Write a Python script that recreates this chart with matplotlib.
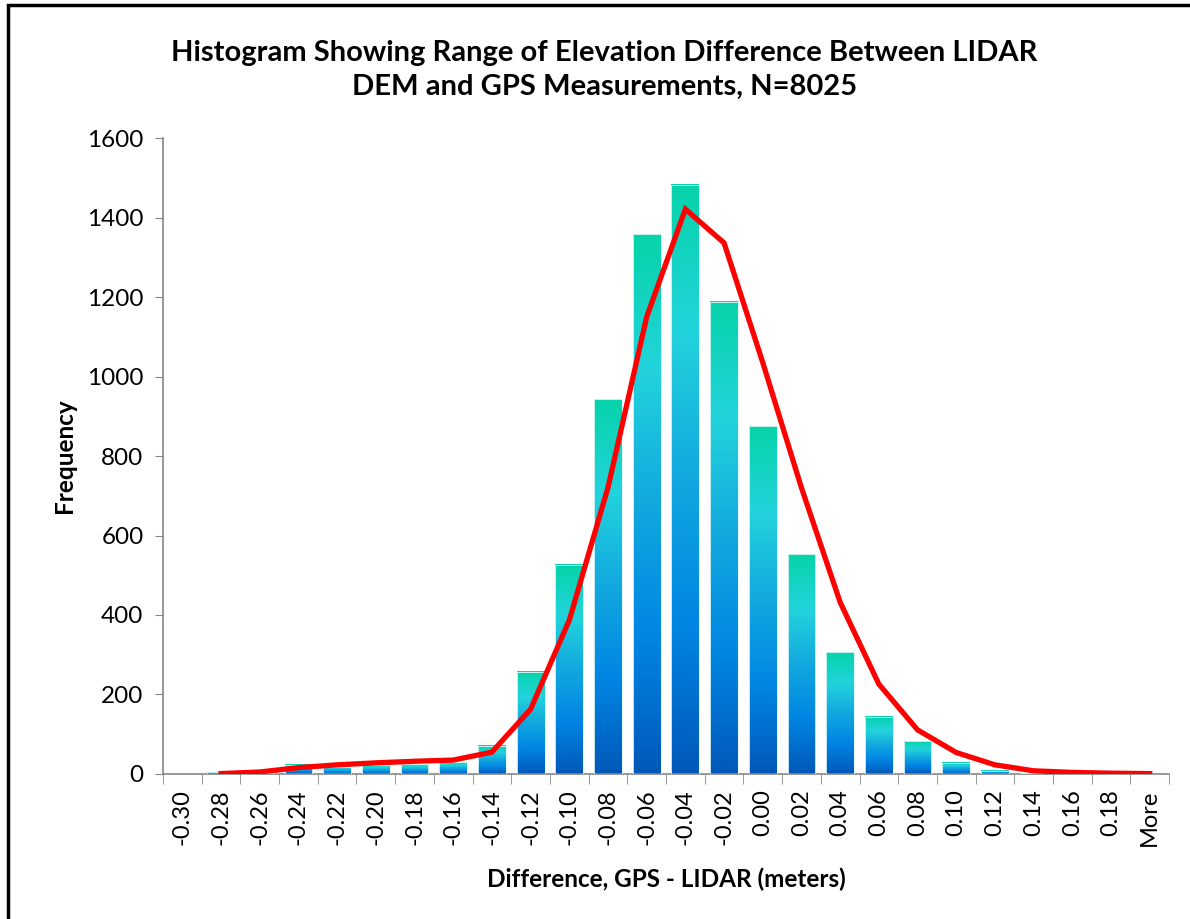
import numpy as np
import matplotlib
matplotlib.use("Agg")
import matplotlib.pyplot as plt
from matplotlib.colors import LinearSegmentedColormap
from matplotlib.patches import Rectangle

# bins of GPS - LIDAR difference (metres), last bin is Excel's "More"
bins = ["-0.30", "-0.28", "-0.26", "-0.24", "-0.22", "-0.20", "-0.18", "-0.16",
        "-0.14", "-0.12", "-0.10", "-0.08", "-0.06", "-0.04", "-0.02", "0.00",
        "0.02", "0.04", "0.06", "0.08", "0.10", "0.12", "0.14", "0.16", "0.18", "More"]
freq = [0, 4, 2, 23, 18, 22, 25, 30, 71, 257, 526, 943, 1358, 1482, 1188, 875,
        553, 306, 144, 82, 28, 8, 2, 1, 1, 0]
# fitted normal curve (starts at the -0.28 bin)
curve = [np.nan, 1, 5, 16, 23, 28, 32, 35, 55, 163, 387, 721, 1150, 1421, 1336, 1035,
         720, 432, 226, 111, 54, 23, 8, 4, 2, 1]

plt.rcParams['font.family'] = ['Lato', 'DejaVu Sans']

fig = plt.figure(figsize=(11.9, 9.19), dpi=100)
ax = fig.add_axes([0.137, 0.1578, 0.8454, 0.692])

grad = LinearSegmentedColormap.from_list("excel", [
    (0.0, "#0058b8"), (0.25, "#0085e3"), (0.5, "#12a8df"),
    (0.75, "#22d3dc"), (1.0, "#06d3a9")])

x = np.arange(len(bins))
bars = ax.bar(x, freq, width=0.72, facecolor="none", edgecolor="#e2f9fa",
              linewidth=0.6, zorder=3)
g = np.linspace(0, 1, 256).reshape(-1, 1)
for b in bars:
    if b.get_height() <= 0:
        continue
    x0, y0 = b.get_x(), b.get_y()
    ax.imshow(g, extent=[x0, x0 + b.get_width(), y0, y0 + b.get_height()],
              origin="lower", aspect="auto", cmap=grad, zorder=2)

ax.plot(x, curve, color="#ff0000", linewidth=3.8, zorder=4, solid_joinstyle="miter")

ax.set_xlim(-0.5, len(bins) - 0.5)
ax.set_ylim(0, 1600)
ax.set_yticks(range(0, 1601, 200))
ax.tick_params(axis="y", labelsize=17.5, length=6, color="#868686", pad=8)

ax.set_xticks(x)
ax.set_xticklabels(bins, rotation=90, fontsize=17)
ax.set_xticks(np.arange(len(bins) + 1) - 0.5, minor=True)
ax.tick_params(axis="x", which="major", length=0, pad=11)
ax.tick_params(axis="x", which="minor", length=7, color="#868686")

for s in ["top", "right"]:
    ax.spines[s].set_visible(False)
for s in ["left", "bottom"]:
    ax.spines[s].set_color("#868686")
    ax.spines[s].set_linewidth(1.2)

ax.set_ylabel("Frequency", fontsize=17.5, fontweight="bold", labelpad=8)
ax.set_xlabel("Difference, GPS - LIDAR (meters)", fontsize=17.5, fontweight="bold",
              labelpad=16)
fig.text(0.508, 0.924, "Histogram Showing Range of Elevation Difference Between LIDAR\n"
         "DEM and GPS Measurements, N=8025", ha="center", va="center",
         fontsize=21, fontweight="bold", linespacing=1.35)

# chart frame, cut off at the right and bottom
fig.patches.append(Rectangle((8 / 1190, -0.05), 1.1, 1 - 5 / 919 + 0.05,
                             transform=fig.transFigure, fill=False,
                             edgecolor="black", linewidth=2.5))

fig.savefig("out.png", dpi=100)
